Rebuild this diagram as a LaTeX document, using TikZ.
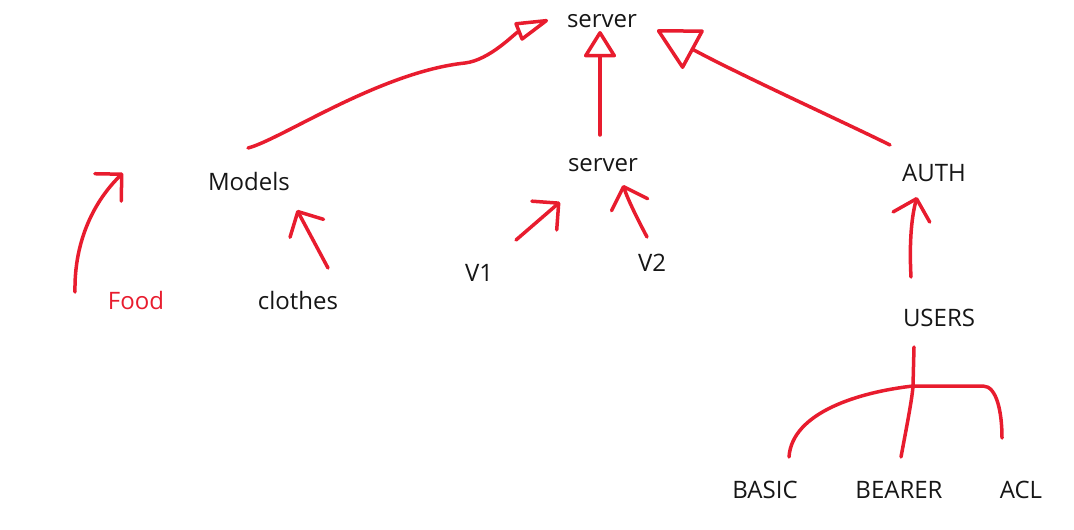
\documentclass[tikz,border=0pt]{standalone}
\usepackage{fontspec}
\setmainfont{Open Sans}
\usepackage{xcolor}
\usepackage{tikz}
\usetikzlibrary{arrows.meta}
\definecolor{penRed}{HTML}{E81C2E}
\definecolor{inkBlack}{HTML}{161616}

\begin{document}
\begin{tikzpicture}[x=1pt,y=-1pt]
    \tikzset{lbl/.style={font=\fontsize{24}{28}\selectfont,text=inkBlack,inner sep=0pt}, pen/.style={draw=penRed,line width=3.5pt,line cap=round,line join=round}, barb/.style={pen,-{Straight Barb[round,length=19pt,width=38pt]}}, tri/.style 2 args={pen,-{Triangle[open,round,length=#1,width=#2]}}}
    \useasboundingbox (0,0) rectangle (1074,530);
    \node[lbl] (srvTop) at (602,21) {server};
    \node[lbl] (srvMid) at (603,165) {server};
    \node[lbl] (models) at (249,181) {Models};
    \node[lbl,text=penRed] (food) at (136,300) {Food};
    \node[lbl] (clothes) at (298,300) {clothes};
    \node[lbl] (vOne) at (479,273) {V1};
    \node[lbl] (vTwo) at (652,263) {V2};
    \node[lbl] (auth) at (934,173) {AUTH};
    \node[lbl] (users) at (939,318) {USERS};
    \node[lbl] (basic) at (765,490) {BASIC};
    \node[lbl] (bearer) at (899,490) {BEARER};
    \node[lbl] (acl) at (1021,490) {ACL};
    \coordinate (split) at ([shift={(-26,68)}]users.center);
    \draw[tri={38pt}{20pt}] ([shift={(-1,-33)}]models.center) .. controls (280,140) and (380,72) .. (465,63) .. controls (490,60) and (515,33) .. ([shift={(-54,-1)}]srvTop.center);
    \draw[tri={28pt}{34pt}] ([shift={(-3,-30)}]srvMid.center) -- ([shift={(-2,10)}]srvTop.center);
    \draw[tri={44pt}{46pt}] ([shift={(-44,-28)}]auth.center) .. controls (850,125) and (740,75) .. ([shift={(55,9)}]srvTop.center);
    \draw[barb] ([shift={(-61,-8)}]food.center) .. controls (74,240) and (95,200) .. ([shift={(-126,-8)}]models.center);
    \draw[barb] ([shift={(30,-32)}]clothes.center) -- ([shift={(48,29)}]models.center);
    \draw[barb] ([shift={(37,-33)}]vOne.center) -- ([shift={(-43,37)}]srvMid.center);
    \draw[barb] ([shift={(-5,-26)}]vTwo.center) .. controls (638,220) and (628,200) .. ([shift={(20,20)}]srvMid.center);
    \draw[barb] ([shift={(-28,-41)}]users.center) .. controls (909,240) and (912,215) .. ([shift={(-17,24)}]auth.center);
    \draw[pen] ([shift={(-25,29)}]users.center) -- (split);
    \draw[pen] (split) -- ++(70,0) .. controls +(14,0) and +(0,-25) .. ([shift={(-19,-52)}]acl.center);
    \draw[pen] (split) .. controls (860,392) and (792,412) .. ([shift={(24,-33)}]basic.center);
    \draw[pen] (split) .. controls (912,400) and (906,430) .. ([shift={(2,-33)}]bearer.center);
  \end{tikzpicture}
\end{document}
